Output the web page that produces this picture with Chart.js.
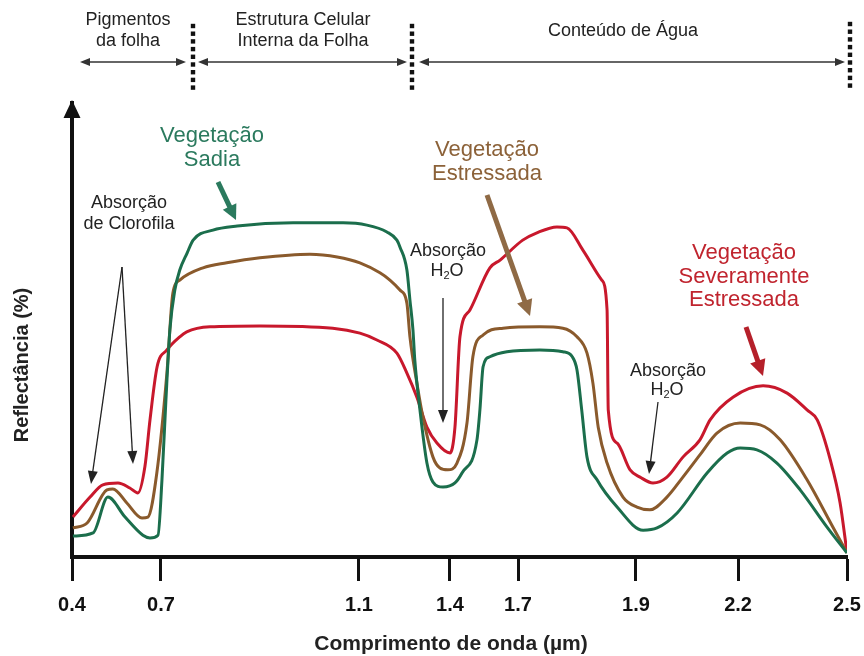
<!DOCTYPE html>
<html><head><meta charset="utf-8">
<script src="https://cdn.jsdelivr.net/npm/chart.js@4/dist/chart.umd.min.js"></script>
<style>html,body{margin:0;padding:0;background:#fff}#wrap{width:864px;height:656px}</style>
</head><body><div id="wrap"><canvas id="c" width="864" height="656"></canvas></div>
<script>
// ---- Data ----
const tickValues = [0.4, 0.7, 1.1, 1.4, 1.7, 1.9, 2.2, 2.5];
const tickLabels = ['0.4', '0.7', '1.1', '1.4', '1.7', '1.9', '2.2', '2.5'];

const healthyX = [0.403,0.471,0.521,0.579,0.639,0.663,0.690,0.702,0.710,0.718,0.728,0.738,0.753,0.765,0.805,0.854,0.967,1.068,1.126,1.192,1.225,1.235,1.258,1.268,1.278,1.284,1.301,1.324,1.344,1.377,1.422,1.453,1.519,1.532,1.546,1.576,1.651,1.737,1.776,1.792,1.800,1.808,1.817,1.834,1.868,1.921,1.962,2.021,2.109,2.168,2.206,2.252,2.307,2.371,2.445,2.5];
const healthyY = [4.6,5.3,13.2,8.8,4.8,4.2,4.8,17.0,34.6,50.0,58.8,63.2,67.0,69.8,72.0,72.9,73.6,73.6,73.1,71.6,69.8,68.3,63.2,56.6,50.0,43.4,32.4,20.7,16.5,15.4,16.3,18.5,25.8,32.4,41.9,44.1,45.2,45.6,45.2,44.1,41.2,32.4,22.0,17.0,11.0,5.9,6.4,9.7,18.5,22.9,24.0,23.6,20.7,14.8,6.6,0.9];

const stressedX = [0.403,0.451,0.518,0.538,0.585,0.636,0.656,0.686,0.712,0.724,0.738,0.785,0.833,0.900,1.001,1.056,1.103,1.169,1.202,1.235,1.258,1.268,1.291,1.311,1.344,1.367,1.393,1.431,1.475,1.501,1.546,1.634,1.737,1.776,1.800,1.817,1.827,1.836,1.851,1.878,1.903,1.941,1.991,2.038,2.088,2.138,2.206,2.261,2.316,2.390,2.461,2.5];
const stressedY = [6.4,7.5,14.8,15.0,11.9,8.6,8.8,18.5,40.5,58.1,61.0,63.7,64.8,65.9,66.7,66.1,64.8,62.6,61.0,58.8,55.9,48.5,38.3,30.8,22.0,19.6,19.2,20.7,29.5,44.1,48.9,50.4,50.7,50.4,48.5,44.9,38.3,28.6,20.7,13.2,11.0,10.4,13.2,17.6,22.5,27.3,29.5,29.1,25.8,17.0,6.6,0.9];

const severeX = [0.403,0.461,0.504,0.555,0.595,0.622,0.646,0.663,0.687,0.712,0.738,0.752,0.799,0.900,1.047,1.103,1.159,1.225,1.258,1.291,1.324,1.357,1.400,1.422,1.444,1.488,1.576,1.621,1.708,1.732,1.766,1.783,1.810,1.842,1.851,1.853,1.868,1.890,1.912,1.950,1.991,2.038,2.088,2.118,2.185,2.269,2.335,2.390,2.418,2.454,2.481,2.5];
const severeY = [8.8,13.2,15.9,16.3,15.2,14.1,20.0,30.2,41.9,45.6,48.5,49.6,50.7,50.9,50.4,49.3,47.8,44.9,40.5,35.2,28.6,25.1,22.9,28.6,48.5,54.4,63.7,65.4,69.8,71.4,72.7,72.5,67.6,61.0,54.4,32.4,25.1,19.2,17.6,16.3,17.6,22.0,25.8,30.2,35.2,37.7,36.1,32.4,30.2,21.4,11.9,0.9];

// ---- Uneven (hand-drawn) axis spacing: fraction of axis length at each tick ----
const axisStops = [0, 0.1148, 0.3703, 0.4877, 0.5755, 0.7277, 0.8594, 1];

function warp(v) {
  for (let i = 0; i < tickValues.length - 1; i++) {
    const a = tickValues[i], b = tickValues[i + 1];
    if (v <= b || i === tickValues.length - 2) {
      return axisStops[i] + (v - a) / (b - a) * (axisStops[i + 1] - axisStops[i]);
    }
  }
}
function unwarp(f) {
  for (let i = 0; i < axisStops.length - 1; i++) {
    const a = axisStops[i], b = axisStops[i + 1];
    if (f <= b || i === axisStops.length - 2) {
      return tickValues[i] + (f - a) / (b - a) * (tickValues[i + 1] - tickValues[i]);
    }
  }
}
class WarpScale extends Chart.LinearScale {
  buildTicks() {
    this.start = this.min; this.end = this.max;
    return tickValues.map(v => ({ value: v }));
  }
  getPixelForValue(v) { return this.getPixelForDecimal(warp(v)); }
  getValueForPixel(p) { return unwarp(this.getDecimalForPixel(p)); }
}
WarpScale.id = 'warp';
WarpScale.defaults = Chart.LinearScale.defaults;
Chart.register(WarpScale);

const FONT = '"Liberation Sans", Arial, Helvetica, sans-serif';
const GREEN = '#1b6e4c', BROWN = '#8a5a2c', RED = '#c8182c';
const GREEN_T = '#2b7a5e', BROWN_T = '#8c6239', RED_T = '#c0242e';

function pts(xs, ys) { return xs.map((x, i) => ({ x: x, y: ys[i] })); }

function head(ctx, x1, y1, x2, y2, len, half, color) {
  const a = Math.atan2(y2 - y1, x2 - x1);
  ctx.fillStyle = color;
  ctx.beginPath();
  ctx.moveTo(x2, y2);
  ctx.lineTo(x2 - len * Math.cos(a) + half * Math.sin(a), y2 - len * Math.sin(a) - half * Math.cos(a));
  ctx.lineTo(x2 - len * Math.cos(a) - half * Math.sin(a), y2 - len * Math.sin(a) + half * Math.cos(a));
  ctx.closePath();
  ctx.fill();
}
function arrow(ctx, x1, y1, x2, y2, lw, color, len, half) {
  const a = Math.atan2(y2 - y1, x2 - x1);
  ctx.strokeStyle = color; ctx.lineWidth = lw; ctx.lineCap = 'butt';
  ctx.beginPath();
  ctx.moveTo(x1, y1);
  ctx.lineTo(x2 - (len - 1) * Math.cos(a), y2 - (len - 1) * Math.sin(a));
  ctx.stroke();
  head(ctx, x1, y1, x2, y2, len, half, color);
}
function dArrow(ctx, x1, x2, y) {
  arrow(ctx, x1 + 9, y, x2, y, 1.6, '#333', 10, 4);
  head(ctx, x2, y, x1, y, 10, 4, '#333');
}
function dots(ctx, x, y0, y1) {
  ctx.fillStyle = '#111';
  for (let y = y0; y <= y1 + 0.1; y += 7.7) ctx.fillRect(x - 2.2, y - 2.2, 4.4, 4.4);
}
function lines(ctx, arr, cx, y0, step, font, color) {
  ctx.font = font; ctx.fillStyle = color; ctx.textAlign = 'center'; ctx.textBaseline = 'alphabetic';
  arr.forEach((t, i) => ctx.fillText(t, cx, y0 + i * step));
}
function h2o(ctx, cx, base, size, color) {
  ctx.fillStyle = color; ctx.textBaseline = 'alphabetic'; ctx.textAlign = 'left';
  ctx.font = size + 'px ' + FONT; const wH = ctx.measureText('H').width, wO = ctx.measureText('O').width;
  ctx.font = Math.round(size * 0.6) + 'px ' + FONT; const w2 = ctx.measureText('2').width;
  let x = cx - (wH + w2 + wO) / 2;
  ctx.font = size + 'px ' + FONT; ctx.fillText('H', x, base); x += wH;
  ctx.font = Math.round(size * 0.6) + 'px ' + FONT; ctx.fillText('2', x, base + 3); x += w2;
  ctx.font = size + 'px ' + FONT; ctx.fillText('O', x, base);
}

const decor = {
  id: 'decor',
  afterDraw(chart) {
    const ctx = chart.ctx;
    ctx.save();
    // Header regions
    const hf = '18px ' + FONT;
    lines(ctx, ['Pigmentos', 'da folha'], 128, 25, 21, hf, '#222');
    lines(ctx, ['Estrutura Celular', 'Interna da Folha'], 303, 25, 21, hf, '#222');
    lines(ctx, ['Conteúdo de Água'], 623, 36, 21, hf, '#222');
    dots(ctx, 193, 26, 89);
    dots(ctx, 412, 26, 89);
    dots(ctx, 850, 24, 87);
    dArrow(ctx, 80, 186, 62);
    dArrow(ctx, 198, 407, 62);
    dArrow(ctx, 419, 845, 62);

    // y-axis arrowhead
    ctx.fillStyle = '#111';
    ctx.beginPath(); ctx.moveTo(72, 100); ctx.lineTo(80.5, 118); ctx.lineTo(63.5, 118); ctx.closePath(); ctx.fill();

    // Series labels
    const sf = '22px ' + FONT;
    lines(ctx, ['Vegetação', 'Sadia'], 212, 142, 23.5, sf, GREEN_T);
    lines(ctx, ['Vegetação', 'Estressada'], 487, 156, 23.5, sf, BROWN_T);
    lines(ctx, ['Vegetação', 'Severamente', 'Estressada'], 744, 259, 23.5, sf, RED_T);
    arrow(ctx, 218, 182, 236, 220, 5, GREEN_T, 15, 7.5);
    arrow(ctx, 487, 195, 530, 316, 5, '#8f6a45', 16, 8);
    arrow(ctx, 746, 327, 763, 376, 5, '#b5202a', 16, 8);

    // Absorption notes
    const af = '18px ' + FONT;
    lines(ctx, ['Absorção', 'de Clorofila'], 129, 208, 20.5, af, '#222');
    arrow(ctx, 122, 267, 91, 484, 1.3, '#222', 13, 5);
    arrow(ctx, 122, 267, 133, 464, 1.3, '#222', 13, 5);
    lines(ctx, ['Absorção'], 448, 256, 20, af, '#222');
    h2o(ctx, 447, 276, 18, '#222');
    arrow(ctx, 443, 298, 443, 423, 1.3, '#222', 13, 5);
    lines(ctx, ['Absorção'], 668, 376, 20, af, '#222');
    h2o(ctx, 667, 395, 18, '#222');
    arrow(ctx, 658, 402, 649, 474, 1.3, '#222', 13, 5);

    // Axis titles
    ctx.fillStyle = '#222';
    ctx.font = 'bold 21px ' + FONT; ctx.textAlign = 'center'; ctx.textBaseline = 'alphabetic';
    ctx.fillText('Comprimento de onda (µm)', 451, 650);
    ctx.translate(22, 365); ctx.rotate(-Math.PI / 2);
    ctx.font = 'bold 20px ' + FONT; ctx.textBaseline = 'middle';
    ctx.fillText('Reflectância (%)', 0, 0);
    ctx.restore();
  }
};

new Chart(document.getElementById('c'), {
  type: 'line',
  data: {
    datasets: [
      { label: 'Vegetação Sadia', data: pts(healthyX, healthyY), borderColor: GREEN },
      { label: 'Vegetação Estressada', data: pts(stressedX, stressedY), borderColor: BROWN },
      { label: 'Vegetação Severamente Estressada', data: pts(severeX, severeY), borderColor: RED }
    ]
  },
  options: {
    responsive: false, animation: false, devicePixelRatio: 1,
    layout: { padding: { left: 72, right: 17, top: 103, bottom: 0 } },
    plugins: { legend: { display: false }, tooltip: { enabled: false }, title: { display: false } },
    elements: { point: { radius: 0 }, line: { borderWidth: 3, cubicInterpolationMode: 'monotone', fill: false } },
    scales: {
      x: {
        type: 'warp', min: 0.4, max: 2.5, position: 'bottom',
        afterFit: s => { s.height = 99; s.paddingLeft = 0; s.paddingRight = 0; },
        grid: { display: true, drawOnChartArea: false, drawTicks: true, tickLength: 24, tickWidth: 3, tickColor: '#111' },
        border: { display: true, color: '#111', width: 4 },
        ticks: { autoSkip: false, maxRotation: 0, padding: 12, color: '#111',
                 font: { family: FONT, size: 20, weight: 'bold' },
                 callback: (v, i) => tickLabels[i] }
      },
      y: {
        type: 'linear', min: 0, max: 100,
        afterFit: s => { s.width = 0; },
        grid: { display: false },
        border: { display: true, color: '#111', width: 4 },
        ticks: { display: false }
      }
    }
  },
  plugins: [decor]
});
</script>
</body></html>
